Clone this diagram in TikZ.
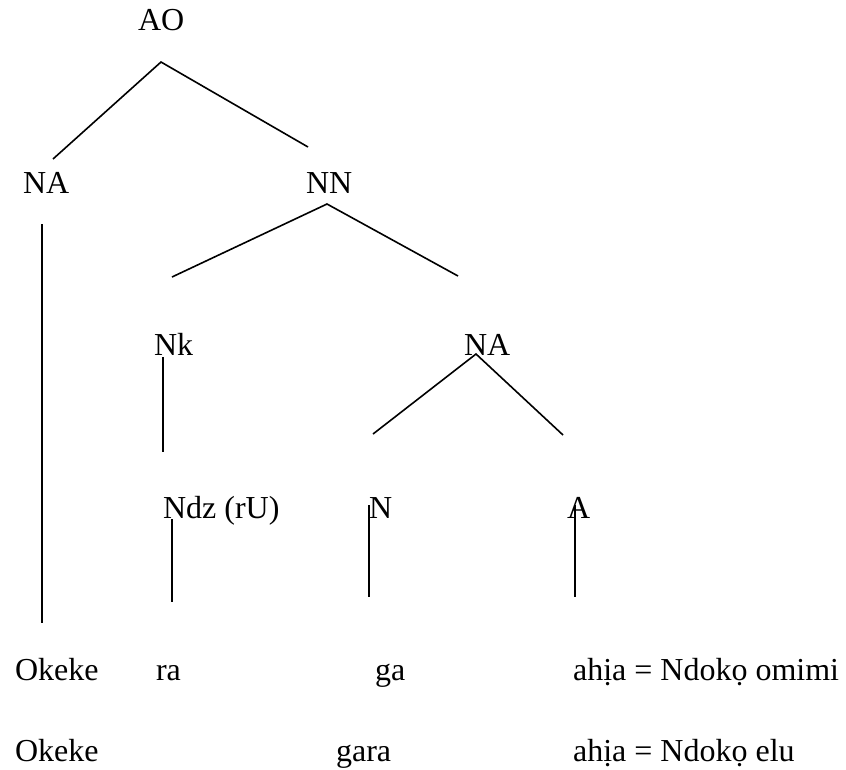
\documentclass[tikz,border=0pt]{standalone}
\usepackage{fontspec}
\setmainfont{Liberation Serif}
\usepackage{tikz}
\usetikzlibrary{positioning, calc}

\begin{document}
\begin{tikzpicture}[x=0.375pt, y=-0.375pt, thick,
				word/.style={anchor=base west, inner sep=0pt, font=\fontsize{12}{14}\selectfont},
				branch/.style={line width=0.6pt}]
				\useasboundingbox (0,0) rectangle (846,769);
				
				% categorias
				\node[word] (AO)  at (137,30)  {AO};
				\node[word] (NA)  at (22,193)  {NA};
				\node[word] (NN)  at (305,193) {NN};
				\node[word] (Nk)  at (153,355) {Nk};
				\node[word] (NAb) at (463,355) {NA};
				\node[word] (Ndz) at (162,518) {Ndz (rU)};
				\node[word] (N)   at (368,518) {N};
				\node[word] (A)   at (566,518) {A};
				
				% palavras
				\node[word] (Oa)  at (14,680)  {Okeke};
				\node[word] (ra)  at (155,680) {ra};
				\node[word] (ga)  at (374,680) {ga};
				\node[word] (Ma)  at (572,680) {ahịa = Ndokọ omimi};
				\node[word] (Ob)  at (14,761)  {Okeke};
				\node[word] (gara) at (335,761) {gara};
				\node[word] (Mb)  at (572,761) {ahịa = Ndokọ elu};
				
				%Pontas dos ramos:
				\coordinate (AOt) at (161,62);
				\coordinate (AOl) at (53,159);
				\coordinate (AOr) at (308,147);
				\coordinate (NNt) at (327,204);
				\coordinate (NNl) at (172,277);
				\coordinate (NNr) at (458,276);
				\coordinate (Nkt) at (163,357);
				\coordinate (Nkb) at (163,452);
				\coordinate (NAt) at (476,354);
				\coordinate (NAl) at (373,434);
				\coordinate (NAr) at (563,435);
				\coordinate (Ndzt) at (172,519);
				\coordinate (Ndzb) at (172,602);
				\coordinate (Nt) at (369,505);
				\coordinate (Nb) at (369,597);
				\coordinate (At) at (575,505);
				\coordinate (Ab) at (575,597);
				\coordinate (NAlt) at (42,224);
				\coordinate (NAlb) at (42,623);
				
				\draw[branch] (AOl) -- (AOt) -- (AOr);
				\draw[branch] (NNl) -- (NNt) -- (NNr);
				\draw[branch] (Nkt) -- (Nkb);
				\draw[branch] (NAl) -- (NAt) -- (NAr);
				\draw[branch] (Ndzt) -- (Ndzb);
				\draw[branch] (Nt) -- (Nb);
				\draw[branch] (At) -- (Ab);
				\draw[branch, line width=0.75pt] (NAlt) -- (NAlb);
			\end{tikzpicture}
\end{document}
